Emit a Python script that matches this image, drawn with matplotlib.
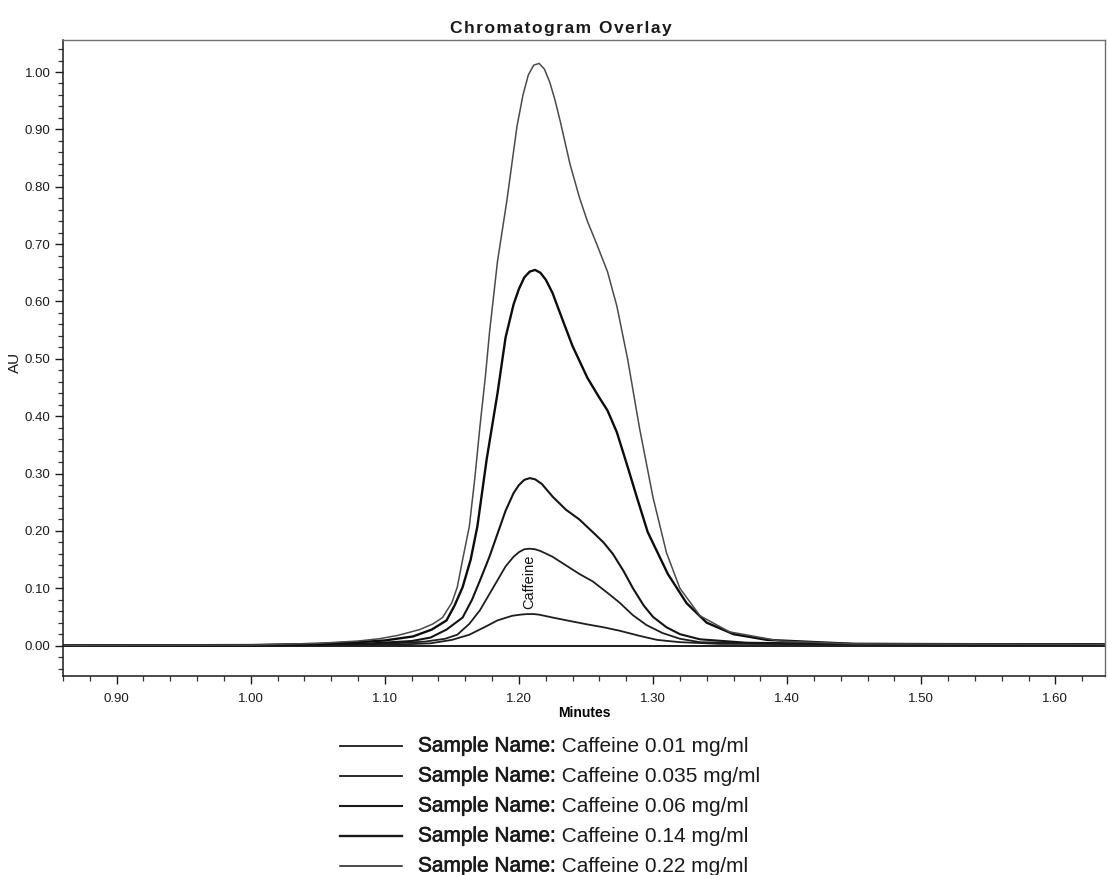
import matplotlib.pyplot as plt
import matplotlib.patheffects as pe
from matplotlib.lines import Line2D
from matplotlib.ticker import MultipleLocator, FormatStrFormatter

plt.rcParams['font.family'] = ['Liberation Sans', 'DejaVu Sans']

# retention time (min) / absorbance (AU) for each standard
conc_labels = ['0.01', '0.035', '0.06', '0.14', '0.22']

t_001 = [0.851, 1.10, 1.134, 1.150, 1.163, 1.175, 1.184, 1.195, 1.201, 1.206, 1.211, 1.215,
         1.225, 1.240, 1.251, 1.263, 1.275, 1.290, 1.303, 1.320, 1.35, 1.64]
au_001 = [0.0, 0.001, 0.004, 0.010, 0.019, 0.033, 0.044, 0.052, 0.054, 0.055, 0.055, 0.054,
          0.049, 0.042, 0.037, 0.032, 0.026, 0.017, 0.010, 0.006, 0.003, 0.002]

t_0035 = [0.851, 1.05, 1.10, 1.13, 1.145, 1.154, 1.163, 1.171, 1.178, 1.184, 1.190, 1.196,
          1.200, 1.204, 1.208, 1.212, 1.216, 1.225, 1.235, 1.245, 1.255, 1.266, 1.275, 1.285,
          1.295, 1.307, 1.320, 1.335, 1.40, 1.64]
au_0035 = [0.0, 0.001, 0.003, 0.007, 0.012, 0.019, 0.038, 0.062, 0.090, 0.114, 0.138, 0.155,
           0.163, 0.168, 0.169, 0.168, 0.165, 0.155, 0.140, 0.125, 0.112, 0.092, 0.075, 0.053,
           0.036, 0.022, 0.012, 0.006, 0.003, 0.002]

t_006 = [0.851, 1.00, 1.05, 1.09, 1.12, 1.134, 1.146, 1.158, 1.165, 1.171, 1.178, 1.184,
         1.190, 1.196, 1.200, 1.204, 1.208, 1.212, 1.217, 1.225, 1.235, 1.245, 1.255, 1.263,
         1.270, 1.278, 1.285, 1.293, 1.300, 1.310, 1.320, 1.335, 1.37, 1.45, 1.64]
au_006 = [0.0, 0.0, 0.002, 0.004, 0.008, 0.014, 0.028, 0.049, 0.080, 0.114, 0.155, 0.195,
          0.235, 0.266, 0.280, 0.289, 0.292, 0.290, 0.282, 0.260, 0.237, 0.220, 0.198, 0.180,
          0.160, 0.130, 0.100, 0.070, 0.050, 0.032, 0.020, 0.011, 0.005, 0.003, 0.002]

t_014 = [0.851, 1.00, 1.05, 1.08, 1.10, 1.121, 1.135, 1.146, 1.152, 1.158, 1.164, 1.169,
         1.176, 1.184, 1.190, 1.196, 1.200, 1.204, 1.208, 1.212, 1.216, 1.220, 1.225, 1.233,
         1.240, 1.251, 1.260, 1.266, 1.273, 1.281, 1.288, 1.296, 1.311, 1.325, 1.340, 1.360,
         1.385, 1.45, 1.64]
au_014 = [0.0, 0.001, 0.003, 0.006, 0.009, 0.016, 0.028, 0.044, 0.070, 0.102, 0.150, 0.208,
          0.326, 0.440, 0.537, 0.595, 0.622, 0.642, 0.652, 0.655, 0.650, 0.638, 0.615, 0.565,
          0.522, 0.467, 0.432, 0.410, 0.372, 0.312, 0.258, 0.198, 0.125, 0.074, 0.040, 0.020,
          0.010, 0.003, 0.002]

t_022 = [0.851, 1.00, 1.05, 1.08, 1.096, 1.11, 1.126, 1.136, 1.143, 1.150, 1.154, 1.158,
         1.163, 1.167, 1.171, 1.175, 1.178, 1.184, 1.191, 1.1985, 1.203, 1.207, 1.211, 1.215,
         1.219, 1.223, 1.227, 1.231, 1.238, 1.245, 1.251, 1.258, 1.266, 1.273, 1.281, 1.290,
         1.300, 1.310, 1.320, 1.335, 1.357, 1.395, 1.45, 1.64]
au_022 = [0.0, 0.001, 0.004, 0.008, 0.012, 0.018, 0.028, 0.038, 0.049, 0.075, 0.102, 0.150,
          0.208, 0.290, 0.384, 0.470, 0.545, 0.670, 0.776, 0.905, 0.960, 0.995, 1.012, 1.015,
          1.005, 0.982, 0.950, 0.912, 0.840, 0.782, 0.740, 0.700, 0.652, 0.592, 0.500, 0.378,
          0.258, 0.162, 0.100, 0.052, 0.024, 0.008, 0.003, 0.002]

traces = [(t_001, au_001), (t_0035, au_0035), (t_006, au_006), (t_014, au_014), (t_022, au_022)]
colors = ['#1e1e1e', '#1e1e1e', '#141414', '#0c0c0c', '#4a4a4a']
widths = [1.3, 1.3, 1.5, 1.7, 1.1]

peak_name = 'Caffeine'
peak_rt = 1.208
peak_label_y = 0.064

fig = plt.figure(figsize=(11.07, 8.75), dpi=100)
ax = fig.add_axes([63 / 1107, 0.2274, 1042 / 1107, 0.727])

ax.axhline(0.0, color='#1e1e1e', lw=1.4, zorder=1)
for (t, au), c, w in zip(traces, colors, widths):
    ax.plot(t, au, color=c, lw=w, solid_capstyle='round', solid_joinstyle='round')

ax.text(peak_rt, peak_label_y, peak_name, rotation=90, ha='center', va='bottom',
        fontsize=10.5, color='#111111')

ax.set_xlim(0.860, 1.637)
ax.set_ylim(-0.053, 1.056)

ax.xaxis.set_major_locator(MultipleLocator(0.1))
ax.xaxis.set_minor_locator(MultipleLocator(0.02))
ax.yaxis.set_major_locator(MultipleLocator(0.1))
ax.yaxis.set_minor_locator(MultipleLocator(0.02))
ax.xaxis.set_major_formatter(FormatStrFormatter('%.2f'))
ax.yaxis.set_major_formatter(FormatStrFormatter('%.2f'))
ax.tick_params(which='major', direction='out', length=6, width=1, labelsize=9.5,
               colors='#1a1a1a', pad=3)
ax.tick_params(axis='x', which='major', pad=6)
ax.tick_params(which='minor', direction='out', length=3.5, width=0.9, colors='#333333')

for side in ['left', 'bottom']:
    ax.spines[side].set_color('#1a1a1a')
    ax.spines[side].set_linewidth(1.1)
for side in ['top', 'right']:
    ax.spines[side].set_color('#707070')
    ax.spines[side].set_linewidth(1.0)

ax.set_xlabel('Minutes', fontsize=10, fontweight='bold', labelpad=1)
fig.text(15 / 1107, 1 - 362 / 875, 'AU', rotation=90, ha='center', va='center',
         fontsize=11, color='#1a1a1a')

title = 'Chromatogram Overlay'
fig.text(0.507, 0.968, '\u200a'.join(title), ha='center', va='center',
         fontsize=12.5, fontweight='bold', color='#1a1a1a')

# legend block under the axis
row_y = [746, 776, 806, 836, 866]
heavy = [pe.withStroke(linewidth=0.45, foreground='#1a1a1a')]
for lab, c, w, py in zip(conc_labels, colors, widths, row_y):
    yf = 1 - py / 875
    fig.add_artist(Line2D([340 / 1107, 402 / 1107], [yf, yf], color='#1a1a1a',
                          lw=w, transform=fig.transFigure))
    head = fig.text(418 / 1107, yf, 'Sample Name:', ha='left', va='center',
                    fontsize=15, color='#1a1a1a', path_effects=heavy)
    ax.annotate(' Caffeine ' + lab + ' mg/ml', xy=(1, 0.5), xycoords=head,
                ha='left', va='center', fontsize=15, color='#1a1a1a')

fig.savefig('out.png', dpi=100)
